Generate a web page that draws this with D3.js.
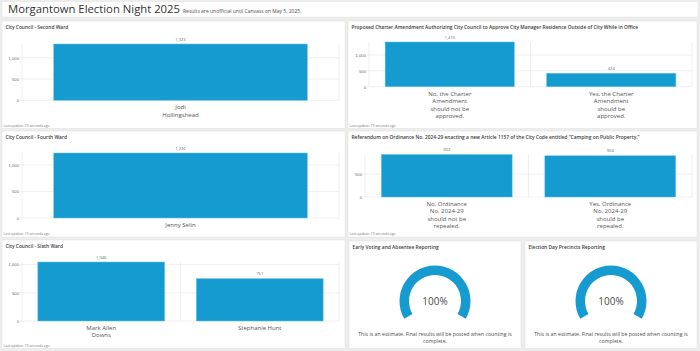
<!DOCTYPE html>
<html>
<head>
<meta charset="utf-8">
<script src="https://cdn.jsdelivr.net/npm/d3@7"></script>
<style>
  body { margin: 0; background: #ededed; }
  svg { font-family: "Open Sans", Lato, sans-serif; display: block; }
</style>
</head>
<body>
<svg id="dash" width="700" height="351"></svg>
<script>
// ---- data ----
const secondWardNames = ["Jodi\nHollingshead"];
const secondWardVotes = [1323];
const charterOptions = ["No, the Charter\nAmendment\nshould not be\napproved.", "Yes, the Charter\nAmendment\nshould be\napproved."];
const charterVotes = [1410, 424];
const fourthWardNames = ["Jenny Selin"];
const fourthWardVotes = [1226];
const ordinanceOptions = ["No, Ordinance\nNo. 2024-29\nshould not be\nrepealed.", "Yes, Ordinance\nNo. 2024-29\nshould be\nrepealed."];
const ordinanceVotes = [932, 904];
const sixthWardNames = ["Mark Allen\nDowns", "Stephanie Hunt"];
const sixthWardVotes = [1046, 751];
const voteTicks = [0, 500, 1000];
const ordinanceTicks = [0, 500];
const gaugeTitles = ["Early Voting and Absentee Reporting", "Election Day Precincts Reporting"];
const gaugePercents = [100, 100];

const blue = "#169bd0";
const svg = d3.select("#dash");

// header
svg.append("rect").attr("x", 2).attr("y", 1.5).attr("width", 696).attr("height", 15.5)
  .attr("fill", "#fff").attr("stroke", "#e2e2e2").attr("stroke-width", 0.5);
const title = svg.append("text").attr("x", 8).attr("y", 13)
  .attr("font-size", 11.3).attr("fill", "#323232").text("Morgantown Election Night 2025");
const tw = title.node().getComputedTextLength();
svg.append("text").attr("x", 8 + tw + 3).attr("y", 12.6)
  .attr("font-size", 5).attr("fill", "#4c4c4c")
  .text("Results are unofficial until Canvass on May 5, 2025.");

function panelBox(p, name) {
  svg.append("rect").attr("x", p.x).attr("y", p.y).attr("width", p.w).attr("height", p.h)
    .attr("fill", "#fff").attr("stroke", "#e0e0e0").attr("stroke-width", 0.5);
  svg.append("text").attr("x", p.x + 3.5).attr("y", p.y + 8)
    .attr("font-size", 4.9).attr("font-weight", 600).attr("fill", "#3a3a3a").text(name);
}

function barPanel(p, name, cats, vals, ticks) {
  panelBox(p, name);
  const x = d3.scaleBand().domain(cats).range([p.left, p.right])
    .paddingInner(0.2).paddingOuter(0.1);
  const y = d3.scaleLinear().domain([0, d3.max(vals)]).range([p.bottom, p.top]);
  const g = svg.append("g");

  // horizontal grid
  g.selectAll(".hgrid").data(ticks).join("line")
    .attr("x1", p.left - 2).attr("x2", p.right)
    .attr("y1", d => y(d)).attr("y2", d => y(d))
    .attr("stroke", "#e4e4e4").attr("stroke-width", 0.6);

  // category boundaries
  const edges = cats.map(c => x(c) - x.step() * 0.1).concat([p.right]);
  g.selectAll(".vgrid").data(edges).join("line")
    .attr("x1", d => d).attr("x2", d => d)
    .attr("y1", p.top).attr("y2", p.bottom)
    .attr("stroke", "#e4e4e4").attr("stroke-width", 0.6);

  // y axis labels
  const ax = g.append("g").attr("transform", `translate(${p.left - 3},0)`)
    .call(d3.axisLeft(y).tickValues(ticks).tickSize(0).tickPadding(0).tickFormat(d3.format(",")));
  ax.select(".domain").remove();
  ax.selectAll("text").attr("font-size", 4.2).attr("fill", "#6a6a6a").attr("font-family", null);

  // bars
  g.selectAll(".bar").data(cats).join("rect")
    .attr("x", d => x(d)).attr("width", x.bandwidth())
    .attr("y", (d, i) => y(vals[i])).attr("height", (d, i) => y(0) - y(vals[i]))
    .attr("fill", blue).attr("stroke", "#63c1ea").attr("stroke-width", 0.5);

  // value labels
  g.selectAll(".val").data(cats).join("text")
    .attr("x", d => x(d) + x.bandwidth() / 2)
    .attr("y", (d, i) => y(vals[i]) - 3.5)
    .attr("text-anchor", "middle").attr("font-size", 4.1).attr("fill", "#6a6a6a")
    .text((d, i) => d3.format(",")(vals[i]));

  // category labels
  const lab = g.selectAll(".cat").data(cats).join("text")
    .attr("text-anchor", "middle").attr("font-size", 6).attr("fill", "#555");
  lab.each(function (d) {
    const t = d3.select(this);
    d.split("\n").forEach((line, i) => {
      t.append("tspan").attr("x", x(d) + x.bandwidth() / 2)
        .attr("y", p.bottom + 9 + i * 7.4).text(line);
    });
  });

  svg.append("text").attr("x", p.x + 1.5).attr("y", p.y + p.h - 2)
    .attr("font-size", 3.5).attr("fill", "#777").text("Last update: 19 seconds ago");
}

function gaugePanel(p, name, pct) {
  panelBox(p, name);
  const cx = p.x + p.w / 2, cy = 301;
  const a = d3.scaleLinear().domain([0, 100]).range([-2 * Math.PI / 3, 2 * Math.PI / 3]);
  const arc = d3.arc().innerRadius(26).outerRadius(35.5);
  svg.append("path").attr("transform", `translate(${cx},${cy})`)
    .attr("d", arc({ startAngle: a(0), endAngle: a(pct) })).attr("fill", blue);
  svg.append("text").attr("x", cx).attr("y", cy + 3.6).attr("text-anchor", "middle")
    .attr("font-size", 10).attr("fill", "#4c4c4c").text(pct + "%");
  const note = ["This is an estimate. Final results will be posted when counting is", "complete."];
  note.forEach((line, i) => {
    svg.append("text").attr("x", cx).attr("y", 336 + i * 7.4).attr("text-anchor", "middle")
      .attr("font-size", 5.2).attr("fill", "#4c4c4c").text(line);
  });
}

barPanel({ x: 2, y: 21, w: 343, h: 107.5, left: 22, right: 339, top: 44, bottom: 100.3 },
  "City Council - Second Ward", secondWardNames, secondWardVotes, voteTicks);
barPanel({ x: 348, y: 21, w: 349, h: 107.5, left: 369, right: 692, top: 42, bottom: 86.7 },
  "Proposed Charter Amendment Authorizing City Council to Approve City Manager Residence Outside of City While in Office",
  charterOptions, charterVotes, voteTicks);
barPanel({ x: 2, y: 131, w: 343, h: 106, left: 22, right: 339, top: 153, bottom: 218 },
  "City Council - Fourth Ward", fourthWardNames, fourthWardVotes, voteTicks);
barPanel({ x: 348, y: 131, w: 349, h: 106, left: 365, right: 692, top: 154.5, bottom: 197 },
  "Referendum on Ordinance No. 2024-29 enacting a new Article 1157 of the City Code entitled \u201cCamping on Public Property.\u201d",
  ordinanceOptions, ordinanceVotes, ordinanceTicks);
barPanel({ x: 2, y: 240, w: 343, h: 108.5, left: 22, right: 339, top: 262, bottom: 321 },
  "City Council - Sixth Ward", sixthWardNames, sixthWardVotes, voteTicks);
gaugePanel({ x: 349, y: 241, w: 172, h: 107.5 }, gaugeTitles[0], gaugePercents[0]);
gaugePanel({ x: 525, y: 241, w: 172, h: 107.5 }, gaugeTitles[1], gaugePercents[1]);
</script>
</body>
</html>
